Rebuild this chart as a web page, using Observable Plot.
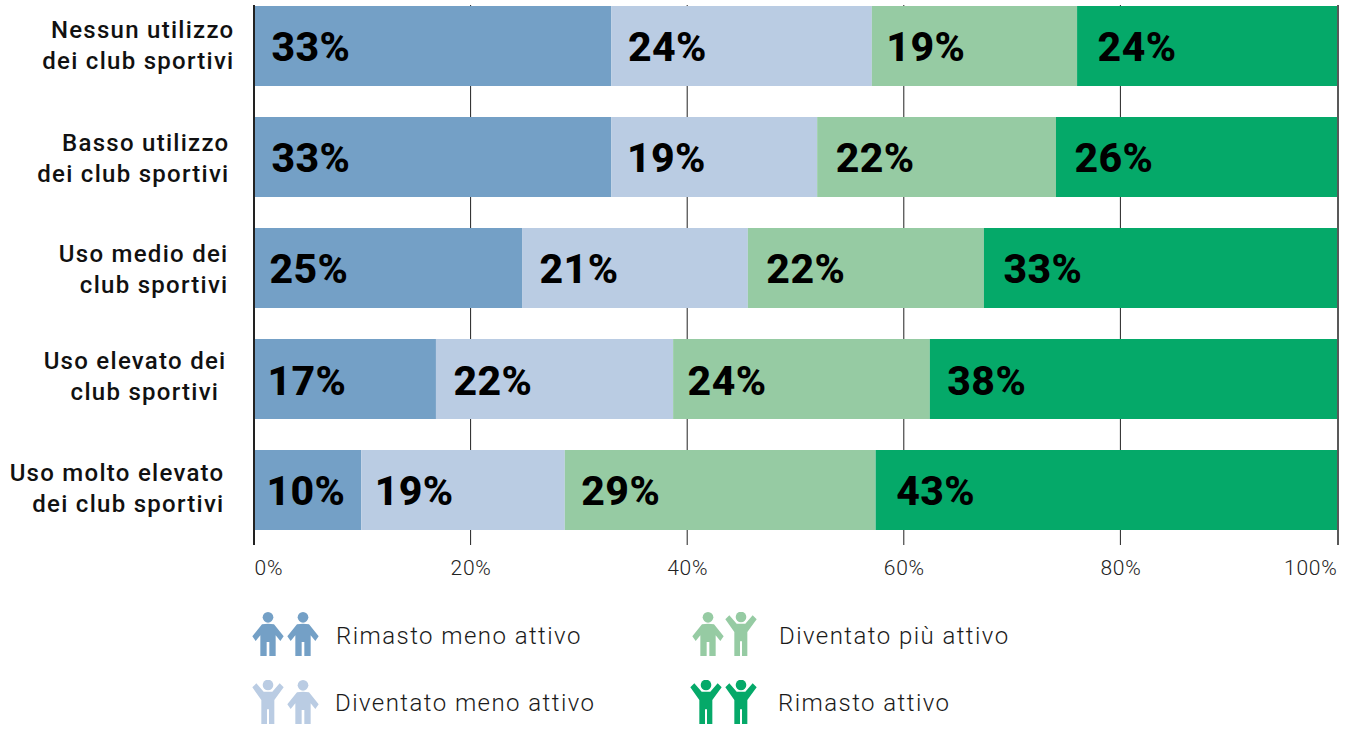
<!DOCTYPE html>
<html lang="it">
<head>
<meta charset="utf-8">
<script src="https://cdn.jsdelivr.net/npm/d3@7"></script>
<script src="https://cdn.jsdelivr.net/npm/@observablehq/plot@0.6"></script>
<style>
html,body{margin:0;padding:0;background:#fff;overflow:hidden}
svg{display:block}
#legend{position:relative;width:1346px;height:150px;font-family:Roboto,sans-serif;font-weight:300;font-size:24px;letter-spacing:.06em;color:#1a1a1a}
#legend span{position:absolute;line-height:30px;white-space:nowrap}
#legend svg{position:absolute;width:32px;height:44px}
.value{letter-spacing:.01em}
.cat{letter-spacing:.053em}
.tick{letter-spacing:.035em}
</style>
</head>
<body>
<div id="chart"></div>
<div id="legend"></div>
<script>
const categories = [
  "Nessun utilizzo\ndei club sportivi",
  "Basso utilizzo\ndei club sportivi",
  "Uso medio dei\nclub sportivi",
  "Uso elevato dei\nclub sportivi\u00a0",
  "Uso molto elevato\ndei club sportivi"
];
const seriesNames = ["Rimasto meno attivo","Diventato meno attivo","Diventato più attivo","Rimasto attivo"];
const seriesColors = ["#74a0c6","#bacce3","#96cba3","#05a969"];
const remainedLess = [33,33,24.75,16.8,9.9];
const becameLess = [24.05,19,20.85,21.9,18.8];
const becameMore = [18.95,22.05,21.8,23.7,28.7];
const remainedActive = [24,25.95,32.6,37.6,42.6];
const labelRemainedLess = [33,33,25,17,10];
const labelBecameLess = [24,19,21,22,19];
const labelBecameMore = [19,22,22,24,29];
const labelRemainedActive = [24,26,33,38,43];
const xTicks = [0,20,40,60,80,100];

const seriesValues = [remainedLess,becameLess,becameMore,remainedActive];
const seriesLabels = [labelRemainedLess,labelBecameLess,labelBecameMore,labelRemainedActive];

const rows = categories.flatMap((category,r)=>{
  let start = 0;
  return seriesNames.map((series,s)=>{
    const value = seriesValues[s][r];
    const row = {category,series,value,start,label:seriesLabels[s][r]+"%"};
    start += value;
    return row;
  });
});

// Small text nudges (px) that follow the hand placement of the original labels.
const valueInset = [[17,16,14,20],[17,15,18,18],[15,17,18,19],[13,17,14,17],[12,13,16,20]];
const valueLift = [1,1,1,2,1];
const categoryInset = [20,25,26,28,30];
const categoryLift = [-3,-1,-1,-5,-4];

const chart = Plot.plot({
  width:1346,
  height:590,
  marginLeft:254,
  marginRight:9,
  marginTop:5,
  marginBottom:45,
  x:{domain:[0,100],axis:null},
  y:{domain:categories,range:[6,530],paddingInner:31/111,paddingOuter:0,axis:null},
  color:{domain:seriesNames,range:seriesColors},
  style:{fontFamily:"Roboto, sans-serif",background:"#fff"},
  marks:[
    Plot.ruleX(xTicks.slice(1,-1),{stroke:"#222",strokeWidth:1,dx:-.5}),
    Plot.barX(rows,{x:"value",y:"category",fill:"series",z:"series",order:seriesNames}),
    Plot.ruleX([0],{stroke:"#222",strokeWidth:2,dx:-.5}),
    Plot.ruleX([100],{stroke:"#222",strokeWidth:1.5,dx:.5}),
    ...rows.map((d,i)=>Plot.text([d],{
      x:"start",y:"category",text:"label",textAnchor:"start",lineAnchor:"middle",
      dx:valueInset[Math.floor(i/seriesNames.length)][i%seriesNames.length],
      dy:valueLift[Math.floor(i/seriesNames.length)],
      fontSize:41,fontWeight:800,fill:"#000",className:"value"
    })),
    ...categories.map((c,i)=>Plot.text([c],{
      x:()=>0,y:d=>d,text:d=>d,textAnchor:"end",lineAnchor:"middle",lineHeight:1.32,
      dx:-categoryInset[i],dy:categoryLift[i],fontSize:24,fontWeight:500,fill:"#111",className:"cat"
    })),
    ...xTicks.map((t,i)=>Plot.text([t],{
      x:d=>d,frameAnchor:"bottom",lineAnchor:"middle",dy:23,text:d=>d+"%",
      textAnchor:i===0?"start":i===xTicks.length-1?"end":"middle",
      fontSize:21,fontWeight:300,fill:"#222",className:"tick"
    }))
  ]
});
document.getElementById("chart").append(chart);

// Legend, drawn below the chart.
const armsDown = "M83 70 L65 72 L36 108 L46 122 L60 105 L60 167 L79 167 L79 125 L87 125 L87 167 L106 167 L106 105 L120 122 L130 108 L101 72 Z";
const armsUp = "M36 57 L48 45 L70 70 L96 70 L118 45 L130 57 L102 95 L102 167 L86 167 L86 123 L80 123 L80 167 L63 167 L63 95 Z";
const person = (up,color,x,y)=>`<svg viewBox="36 35 94 132" style="left:${x}px;top:${y}px"><circle cx="83" cy="${up?50:51}" r="16" fill="${color}"/><path d="${up?armsUp:armsDown}" fill="${color}"/></svg>`;
const legendEntries = [
  {poses:[false,false],color:seriesColors[0],xs:[252,287],y:22,tx:336,ty:31,text:seriesNames[0]},
  {poses:[true,false],color:seriesColors[1],xs:[252,287],y:90,tx:335,ty:98,text:seriesNames[1]},
  {poses:[false,true],color:seriesColors[2],xs:[692,725],y:22,tx:779,ty:31,text:seriesNames[2]},
  {poses:[true,true],color:seriesColors[3],xs:[690,725],y:90,tx:778,ty:98,text:seriesNames[3]}
];
document.getElementById("legend").innerHTML = legendEntries.map(e=>
  e.poses.map((p,i)=>person(p,e.color,e.xs[i],e.y)).join("")+
  `<span style="left:${e.tx}px;top:${e.ty}px">${e.text}</span>`
).join("");
</script>
</body>
</html>
